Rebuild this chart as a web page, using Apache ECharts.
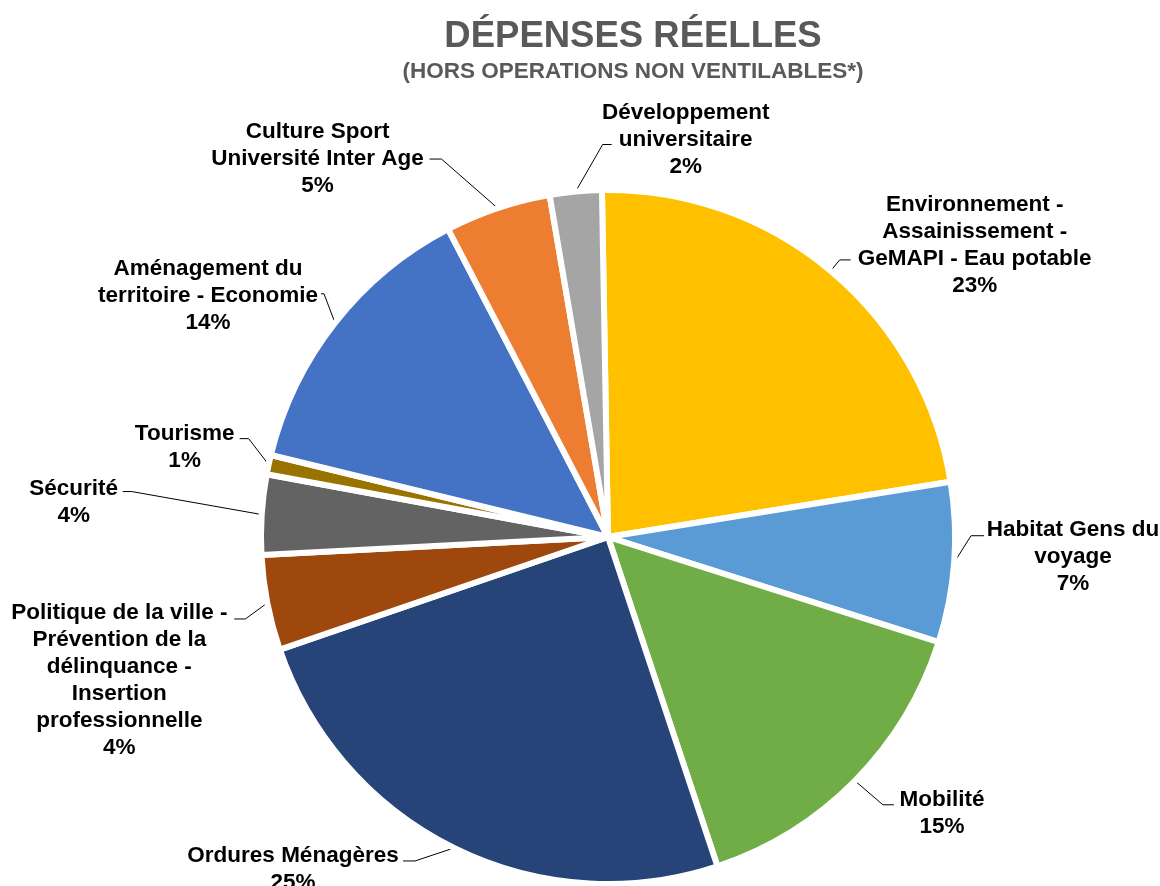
<!DOCTYPE html>
<html>
<head>
<meta charset="utf-8">
<script src="https://cdn.jsdelivr.net/npm/echarts@6/dist/echarts.min.js"></script>
<style>
html,body{margin:0;padding:0;background:#fff;}
#chart{width:1160px;height:886px;}
</style>
</head>
<body>
<div id="chart"></div>
<script>
// ---- data ----
const categories = [
  'Environnement -\nAssainissement -\nGeMAPI - Eau potable',
  'Habitat Gens du\nvoyage',
  'Mobilité',
  'Ordures Ménagères',
  'Politique de la ville -\nPrévention de la\ndélinquance -\nInsertion\nprofessionnelle',
  'Sécurité',
  'Tourisme',
  'Aménagement du\nterritoire - Economie',
  'Culture Sport\nUniversité Inter Age',
  'Développement\nuniversitaire'
];
const values = [22.6, 7.4, 14.9, 24.7, 4.4, 3.7, 0.9, 13.5, 4.9, 2.4];
const colors = ['#FFC000', '#5B9BD5', '#70AD47', '#264478', '#9E480E', '#636363', '#997300', '#4472C4', '#ED7D31', '#A5A5A5'];
const titleText = 'DÉPENSES RÉELLES';
const subtitleText = '(HORS OPERATIONS NON VENTILABLES*)';

// ---- label placement (offsets from the leader start on the slice edge) ----
const labelPlacement = [
  { elbow: [9, -11],   tail: 11,  text: [144, -26] },
  { elbow: [17, -27],  tail: 13,  text: [119, -6] },
  { elbow: [28, 24],   tail: 11,  text: [87, 33] },
  { elbow: [-39, 13],  tail: -12, text: [-161, 21] },
  { elbow: [-22, 16],  tail: -11, text: [-148, 77] },
  { elbow: [-130, -23],tail: -9,  text: [-188, -12] },
  { elbow: [-20, -26], tail: -9,  text: [-84, -17] },
  { elbow: [-11, -29], tail: -3,  text: [-127, -27] },
  { elbow: [-56, -49], tail: -12, text: [-180, -49] },
  { elbow: [27, -47],  tail: 9,   text: [110, -52] }
];

const chart = echarts.init(document.getElementById('chart'), null, { renderer: 'canvas' });

const seriesData = categories.map((c, i) => ({
  name: c,
  value: values[i],
  itemStyle: { color: colors[i] }
}));

chart.setOption({
  animation: false,
  backgroundColor: '#ffffff',
  textStyle: { fontFamily: 'Liberation Sans, Arial, sans-serif' },
  title: {
    text: titleText,
    subtext: subtitleText,
    left: 628,
    textAlign: 'center',
    top: 13,
    itemGap: 5,
    textStyle: { fontSize: 36.5, fontWeight: 'bold', color: '#595959', fontFamily: 'Liberation Sans, Arial, sans-serif' },
    subtextStyle: { fontSize: 22.5, fontWeight: 'bold', color: '#595959', fontFamily: 'Liberation Sans, Arial, sans-serif' }
  },
  series: [{
    type: 'pie',
    center: [608, 537],
    radius: 347,
    startAngle: 91,
    clockwise: true,
    avoidLabelOverlap: false,
    data: seriesData,
    itemStyle: { borderColor: '#ffffff', borderWidth: 6 },
    emphasis: { disabled: true },
    label: {
      show: true,
      position: 'outside',
      formatter: p => p.name + '\n' + Math.round(p.percent) + '%',
      fontSize: 22.5,
      fontWeight: 'bold',
      lineHeight: 27,
      color: '#000000',
      fontFamily: 'Liberation Sans, Arial, sans-serif'
    },
    labelLine: {
      show: true,
      length: 10,
      length2: 10,
      smooth: false,
      lineStyle: { color: '#000000', width: 1 }
    },
    labelLayout: function (params) {
      const pts = params.labelLinePoints;
      const L = labelPlacement[params.dataIndex];
      if (!pts || !L) return {};
      const p0 = pts[0];
      const elbow = [p0[0] + L.elbow[0], p0[1] + L.elbow[1]];
      const end = [elbow[0] + L.tail, elbow[1]];
      return {
        x: p0[0] + L.text[0],
        y: p0[1] + L.text[1],
        align: 'center',
        verticalAlign: 'middle',
        labelLinePoints: [p0, elbow, end]
      };
    }
  }]
});
</script>
</body>
</html>
